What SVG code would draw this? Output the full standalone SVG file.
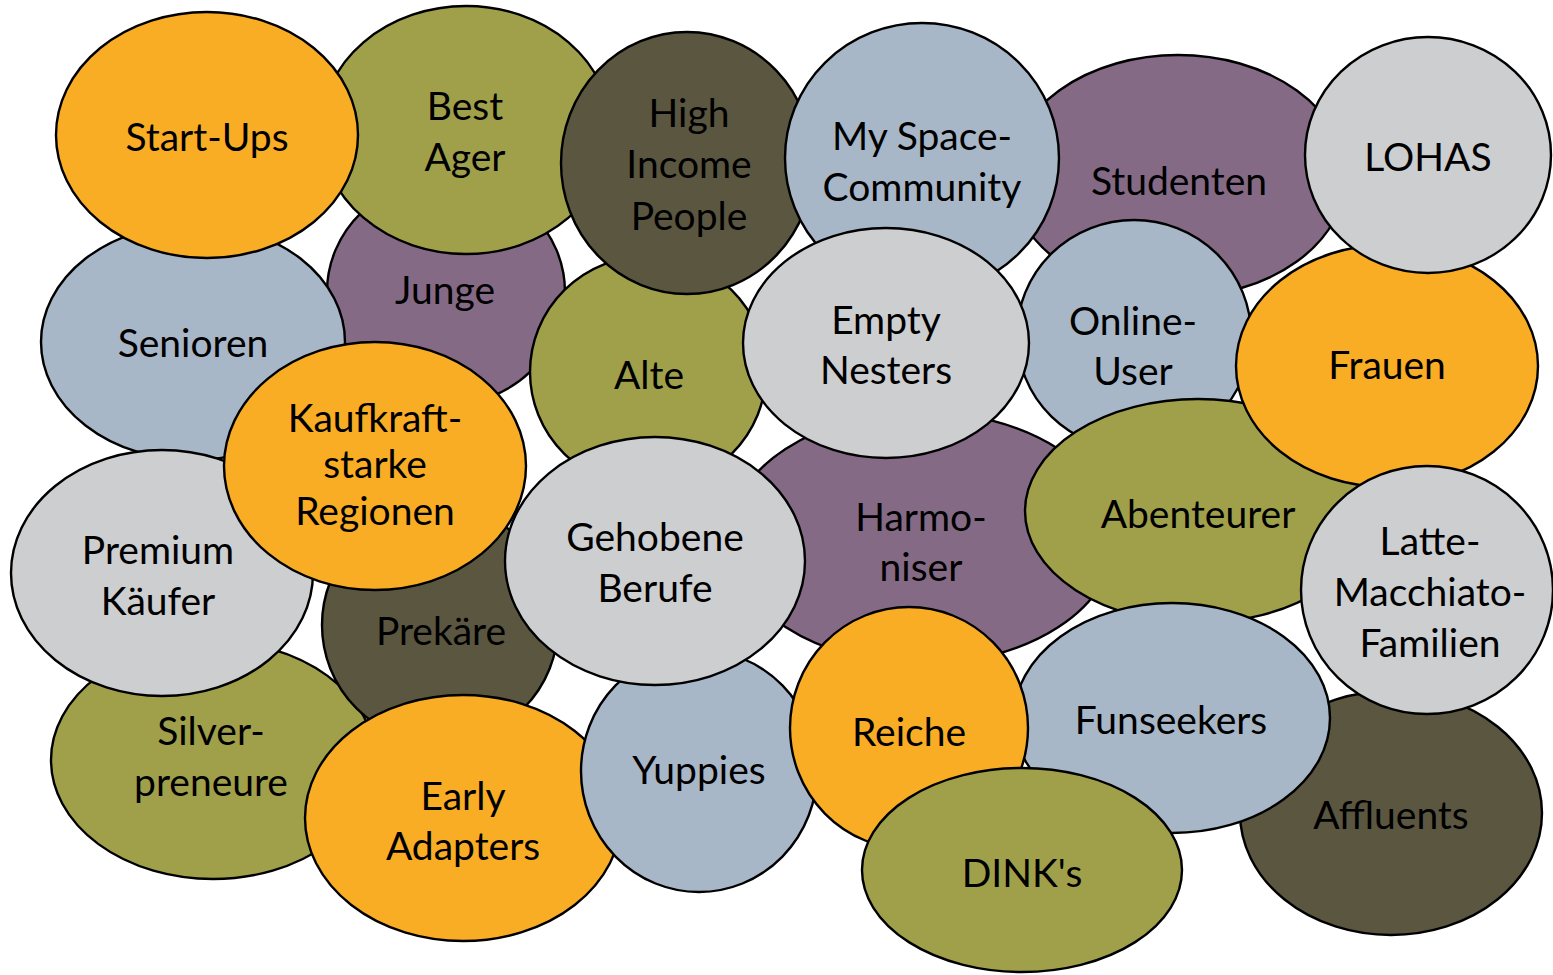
<svg xmlns="http://www.w3.org/2000/svg" width="1553" height="975" viewBox="0 0 1553 975">
<style>
ellipse{stroke:#000;stroke-width:2.4}
.o{fill:#F9AD24}.g{fill:#A0A04B}.p{fill:#856A86}.d{fill:#5B5640}.b{fill:#A8B7C7}.l{fill:#CDCED0}
text{font-family:Lato,"Open Sans","DejaVu Sans",sans-serif;font-size:39px;fill:#000;text-anchor:middle}
</style>
<rect width="1553" height="975" fill="#fff"/>
<g id="junge"><ellipse class="p" cx="446" cy="292" rx="119" ry="113"/><text x="445" y="304">Junge</text></g>
<g id="senioren"><ellipse class="b" cx="193" cy="342" rx="152" ry="118"/><text x="193" y="357">Senioren</text></g>
<g id="best-ager"><ellipse class="g" cx="466" cy="130" rx="145" ry="124"/><text x="465" y="120">Best</text><text x="465" y="171">Ager</text></g>
<g id="start-ups"><ellipse class="o" cx="207" cy="135" rx="151" ry="123"/><text x="207" y="151">Start-Ups</text></g>
<g id="alte"><ellipse class="g" cx="648" cy="372" rx="118" ry="116"/><text x="649" y="389">Alte</text></g>
<g id="high-income"><ellipse class="d" cx="687" cy="163" rx="126" ry="131"/><text x="689" y="127">High</text><text x="689" y="178">Income</text><text x="689" y="230">People</text></g>
<g id="studenten"><ellipse class="p" cx="1178" cy="176" rx="168" ry="121"/><text x="1179" y="195">Studenten</text></g>
<g id="myspace"><ellipse class="b" cx="922" cy="158" rx="137" ry="135"/><text x="922" y="150">My Space-</text><text x="922" y="201">Community</text></g>
<g id="online-user"><ellipse class="b" cx="1134" cy="335" rx="117" ry="115"/><text x="1133" y="335">Online-</text><text x="1133" y="385">User</text></g>
<g id="harmoniser"><ellipse class="p" cx="922" cy="538" rx="193" ry="126"/><text x="921" y="531">Harmo-</text><text x="921" y="581">niser</text></g>
<g id="empty-nesters"><ellipse class="l" cx="886" cy="343" rx="143" ry="115"/><text x="886" y="334">Empty</text><text x="886" y="384">Nesters</text></g>
<g id="abenteuer"><ellipse class="g" cx="1198" cy="511" rx="173" ry="112"/><text x="1198" y="528">Abenteurer</text></g>
<g id="frauen"><ellipse class="o" cx="1387" cy="366" rx="151" ry="121"/><text x="1387" y="379">Frauen</text></g>
<g id="lohas"><ellipse class="l" cx="1428" cy="155" rx="123" ry="118"/><text x="1428" y="171">LOHAS</text></g>
<g id="affluents"><ellipse class="d" cx="1391" cy="813" rx="151" ry="122"/><text x="1391" y="829">Affluents</text></g>
<g id="latte"><ellipse class="l" cx="1427" cy="590" rx="126" ry="124"/><text x="1430" y="555">Latte-</text><text x="1430" y="606">Macchiato-</text><text x="1430" y="657">Familien</text></g>
<g id="silverpreneure"><ellipse class="g" cx="213" cy="760" rx="162" ry="119"/><text x="211" y="745">Silver-</text><text x="211" y="796">preneure</text></g>
<g id="premium"><ellipse class="l" cx="162" cy="573" rx="151" ry="123"/><text x="158" y="564">Premium</text><text x="158" y="615">Käufer</text></g>
<g id="prekaere"><ellipse class="d" cx="440" cy="625" rx="118" ry="118"/><text x="441" y="645">Prekäre</text></g>
<g id="kaufkraft"><ellipse class="o" cx="375" cy="466" rx="151" ry="124"/><text x="375" y="432">Kaufkraft-</text><text x="375" y="478">starke</text><text x="375" y="525">Regionen</text></g>
<g id="early-adapters"><ellipse class="o" cx="463" cy="818" rx="158" ry="123"/><text x="463" y="810">Early</text><text x="463" y="860">Adapters</text></g>
<g id="yuppies"><ellipse class="b" cx="699" cy="771" rx="118" ry="121"/><text x="699" y="784">Yuppies</text></g>
<g id="gehobene"><ellipse class="l" cx="655" cy="561" rx="150" ry="124"/><text x="655" y="551">Gehobene</text><text x="655" y="602">Berufe</text></g>
<g id="funseekers"><ellipse class="b" cx="1172" cy="718" rx="158" ry="115"/><text x="1171" y="734">Funseekers</text></g>
<g id="reiche"><ellipse class="o" cx="909" cy="728" rx="119" ry="121"/><text x="909" y="746">Reiche</text></g>
<g id="dinks"><ellipse class="g" cx="1022" cy="870" rx="160" ry="102"/><text x="1022" y="887">DINK's</text></g>
<g id="connectors"></g>
</svg>
